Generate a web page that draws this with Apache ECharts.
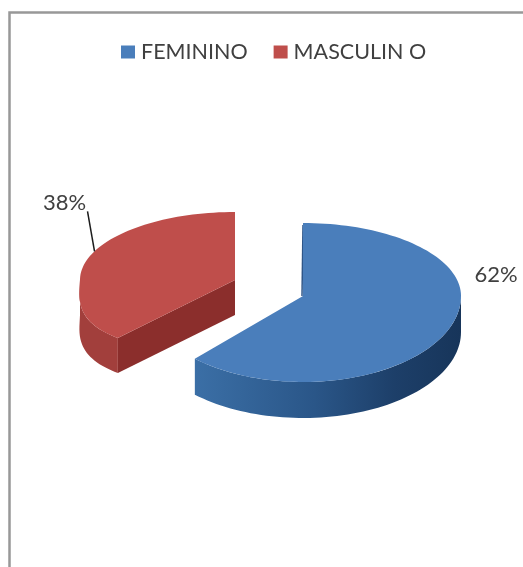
<!DOCTYPE html>
<html>
<head>
<meta charset="utf-8">
<style>html,body{margin:0;padding:0;background:#fff}#chart{width:523px;height:567px}</style>
<script src="https://cdn.jsdelivr.net/npm/echarts@6/dist/echarts.min.js"></script>
</head>
<body>
<div id="chart"></div>
<script>
// Sex breakdown, percent
const categories = ['FEMININO', 'MASCULIN O'];
const shares = [62, 38];
const topColors = ['#4a7ebb', '#bf4e4b'];

// Tilted-disc projection of each exploded slice
const discs = [
  { cx: 303, cy: 296, rx: 158, ryBack: 73, ryFront: 86, depth: 36, skew: 0, fullness: 1 },
  { cx: 235, cy: 280, rx: 155, ryBack: 68, ryFront: 72.4, depth: 35, skew: 0.025, fullness: 0.7 }
];

function project(d, deg) {
  const a = deg * Math.PI / 180;
  const c = Math.cos(a);
  const dy = c > 0 ? -d.ryBack * c : d.ryFront * Math.pow(-c, d.fullness);
  const bend = dy > 0 ? d.skew * Math.pow(dy, 1.5) : 0;
  return [d.cx + d.rx * Math.sin(a) - bend, d.cy + dy];
}
function arc(d, from, to) {
  const pts = [];
  const n = Math.max(2, Math.ceil(Math.abs(to - from) / 2));
  for (let i = 0; i <= n; i++) pts.push(project(d, from + (to - from) * i / n));
  return pts;
}
const drop = (pts, h) => pts.map(p => [p[0], p[1] + h]);

function sliceRange(idx) {
  const total = shares.reduce((s, v) => s + v, 0);
  let start = 0;
  for (let i = 0; i < idx; i++) start += shares[i] / total * 360;
  return [start, start + shares[idx] / total * 360];
}

function renderSlice(idx) {
  return function (params, api) {
    const d = discs[idx];
    const [from, to] = sliceRange(idx);
    const apex = [d.cx, d.cy];
    const top = [apex].concat(arc(d, from, to));
    const children = [];
    const wall = (pts, fill) => children.push({
      type: 'polygon',
      shape: { points: pts.concat(drop(pts, d.depth).reverse()) },
      style: { fill: fill }
    });
    if (idx === 0) {
      // Outer rim, front half only
      wall(arc(d, 90, to), new echarts.graphic.LinearGradient(1, 0, 0, 0, [
        { offset: 0, color: '#17355a' },
        { offset: 0.25, color: '#1d3f69' },
        { offset: 0.55, color: '#2a5688' },
        { offset: 1, color: '#3b6fa6' }
      ]));
      // Thin sliver of the cut face at the slice start
      children.push({
        type: 'polyline',
        shape: { points: [[d.cx, d.cy - d.ryBack + 2], [d.cx - 1, d.cy]] },
        style: { stroke: '#2f5688', lineWidth: 1.5, fill: null }
      });
    } else {
      wall(arc(d, from, 270), '#a23f3c');
      wall([project(d, from), apex], '#8b2e2c');
      // Leader from the rim up to the percentage label
      const rim = project(d, 295);
      children.push({
        type: 'line',
        shape: { x1: rim[0], y1: rim[1], x2: rim[0] - 7, y2: rim[1] - 40 },
        style: { stroke: '#1c1c1c', lineWidth: 1.5 },
        z2: 5
      });
    }
    children.push({
      type: 'polygon',
      shape: { points: top },
      style: { fill: topColors[idx] }
    });
    const anchors = [[496, 275], [64.5, 203]];
    children.push({
      type: 'text',
      x: anchors[idx][0], y: anchors[idx][1],
      style: {
        text: api.value(0) + '%',
        fill: '#404040',
        font: '22px Lato',
        align: 'center',
        verticalAlign: 'middle'
      }
    });
    return { type: 'group', children: children };
  };
}

const chart = echarts.init(document.getElementById('chart'), null, { renderer: 'canvas' });
chart.setOption({
  animation: false,
  backgroundColor: '#ffffff',
  legend: {
    top: 41,
    left: 121,
    padding: 0,
    itemWidth: 14,
    itemHeight: 13,
    itemGap: 26,
    icon: 'rect',
    textStyle: { fontFamily: 'Lato', fontSize: 21.5, color: '#404040', padding: [0, 0, 0, 1] },
    data: categories
  },
  graphic: [
    {
      type: 'polyline',
      shape: { points: [[9.5, 567], [9.5, 12.5], [523, 12.5]] },
      style: { stroke: '#989898', lineWidth: 2.5, fill: null },
      silent: true
    }
  ],
  series: categories.map((name, i) => ({
    type: 'custom',
    name: name,
    coordinateSystem: 'none',
    itemStyle: { color: topColors[i] },
    renderItem: renderSlice(i),
    data: [[shares[i]]],
    encode: { value: 0 },
    silent: true
  }))
});
</script>
</body>
</html>
